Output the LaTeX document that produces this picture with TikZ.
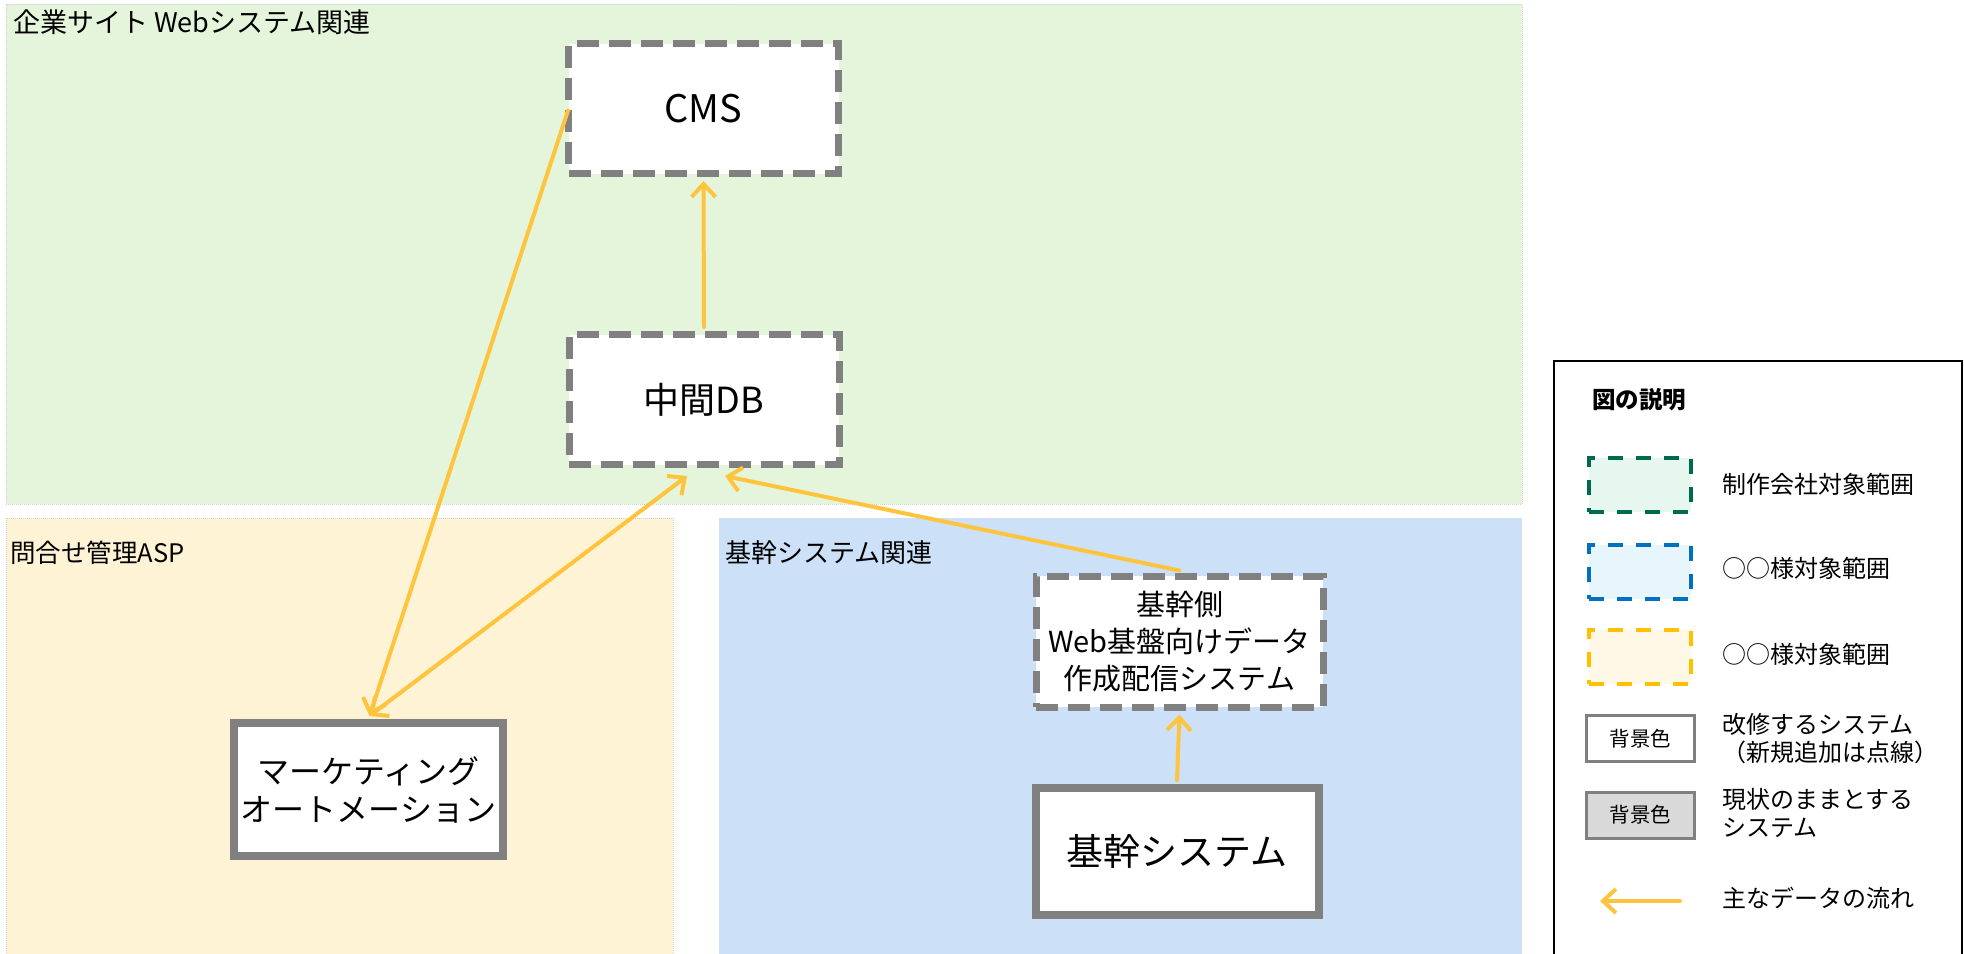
\documentclass[tikz,border=0pt]{standalone}
\usepackage{fontspec}
\setmainfont{Noto Sans CJK JP}
\usetikzlibrary{arrows.meta,calc}
\definecolor{grnbg}{RGB}{228,245,219}
\definecolor{ylwbg}{RGB}{255,243,214}
\definecolor{blubg}{RGB}{204,224,248}
\definecolor{boxgray}{RGB}{128,128,128}
\definecolor{flowc}{RGB}{255,196,61}
\definecolor{lgdgreen}{RGB}{0,106,78}
\definecolor{lgdgreenbg}{RGB}{230,247,240}
\definecolor{lgdblue}{RGB}{0,112,192}
\definecolor{lgdbluebg}{RGB}{230,246,252}
\definecolor{lgdyellow}{RGB}{255,192,0}
\definecolor{lgdyellowbg}{RGB}{255,248,230}
\definecolor{lgdgraybg}{RGB}{217,217,217}
\begin{document}
\begin{tikzpicture}[x=1pt,y=-1pt,
  region/.style={draw=black!18, densely dotted, line width=1pt},
  regtitle/.style={anchor=west, inner sep=0pt, font=\fontsize{26}{30}\selectfont},
  newsys/.style={draw=boxgray, fill=white, line width=7pt, dash pattern=on 22pt off 10pt, inner sep=0pt, align=center},
  cursys/.style={draw=boxgray, fill=white, line width=8pt, inner sep=0pt, align=center},
  flow/.style={draw=flowc, line width=4pt, line cap=round, -{Straight Barb[length=13pt,width=24pt]}},
  flowboth/.style={draw=flowc, line width=4pt, line cap=round, {Straight Barb[length=13pt,width=24pt]}-{Straight Barb[length=13pt,width=24pt]}},
  lgdrect/.style={line width=4pt, dash pattern=on 15pt off 13pt, minimum width=102pt, minimum height=54pt, inner sep=0pt},
  lgdbox/.style={draw=boxgray, line width=3pt, minimum width=108pt, minimum height=46pt, inner sep=0pt, font=\fontsize{20.5}{24}\selectfont},
  lgdtext/.style={anchor=west, inner sep=0pt, align=left, font=\fontsize{24}{28}\selectfont}
]
\useasboundingbox (0,0) rectangle (1964,953);
\fill[white] (0,0) rectangle (1964,953);

% regions
\draw[region, fill=grnbg] (6,4) rectangle (1522,504);
\draw[region, fill=ylwbg] (6,518) rectangle (673,960);
\fill[blubg] (719,518) rectangle (1522,960);
\node[regtitle, font=\fontsize{27}{30}\selectfont] (t1) at (13,22) {企業サイト Webシステム関連};
\node[regtitle, font=\fontsize{25.5}{30}\selectfont] (t2) at (10,553) {問合せ管理ASP};
\node[regtitle] (t3) at (725,553) {基幹システム関連};

% system boxes
\node[newsys, minimum width=270pt, minimum height=130pt, font=\fontsize{38}{44}\selectfont] (cms) at (703.5,108.5) {CMS};
\node[newsys, minimum width=270pt, minimum height=130pt, font=\fontsize{36}{42}\selectfont] (db) at (704,399.5) {中間DB};
\node[newsys, minimum width=287pt, minimum height=131pt, font=\fontsize{29}{37}\selectfont] (kwd) at (1179.5,641.5) {基幹側\\Web基盤向けデータ\\作成配信システム};
\node[cursys, minimum width=269pt, minimum height=133pt, font=\fontsize{32}{38}\selectfont] (ma) at (368.5,789.5) {マーケティング\\オートメーション};
\node[cursys, minimum width=283pt, minimum height=127pt, font=\fontsize{37}{42}\selectfont] (ks) at (1177,851.5) {基幹システム};

% connector end points
\coordinate (cmsL) at ($(cms.west)+(3,2)$);
\coordinate (maT) at ($(ma.north)+(1,-3)$);
\coordinate (dbBL) at ($(db.south)+(-17,8)$);
\coordinate (dbBR) at ($(db.south)+(21,8)$);
\coordinate (kwdT) at ($(kwd.north)+(0,-2)$);
\coordinate (kwdB) at ($(kwd.south)+(0,4)$);
\coordinate (ksT) at ($(ks.north)+(0,-4)$);
\coordinate (cmsB) at ($(cms.south)+(0,4)$);
\coordinate (dbT) at ($(db.north)+(0,-4)$);

% flows
\draw[flow] (cmsL) -- (maT);
\draw[flowboth] (maT) -- (dbBL);
\draw[flow] (dbT) -- (cmsB);
\draw[flow] (kwdT) -- (dbBR);
\draw[flow] (ksT) -- (kwdB);

% legend
\draw[line width=2.5pt] (1554,361) rectangle (1962,965);
\node[anchor=west, inner sep=0pt, font=\fontsize{23.5}{26}\selectfont\bfseries] (lt) at (1592,400) {図の説明};
\node[lgdrect, draw=lgdgreen, fill=lgdgreenbg] (l1) at (1640,485) {};
\node[lgdtext] (l1t) at (1722,484) {制作会社対象範囲};
\node[lgdrect, draw=lgdblue, fill=lgdbluebg] (l2) at (1640,571.5) {};
\node[lgdtext] (l2t) at (1722,568) {○○様対象範囲};
\node[lgdrect, draw=lgdyellow, fill=lgdyellowbg] (l3) at (1640,657) {};
\node[lgdtext] (l3t) at (1722,654) {○○様対象範囲};
\node[lgdbox, fill=white] (l4) at (1640.5,738.5) {背景色};
\node[lgdtext] (l4t) at (1722,738.5) {改修するシステム\\（新規追加は点線）};
\node[lgdbox, fill=lgdgraybg] (l5) at (1640.5,815) {背景色};
\node[lgdtext] (l5t) at (1722,812.5) {現状のままとする\\システム};
\coordinate (la1) at (1680,901);
\coordinate (la2) at (1600,901);
\draw[flow] (la1) -- (la2);
\node[lgdtext] (l6t) at (1722,898) {主なデータの流れ};
\end{tikzpicture}
\end{document}
